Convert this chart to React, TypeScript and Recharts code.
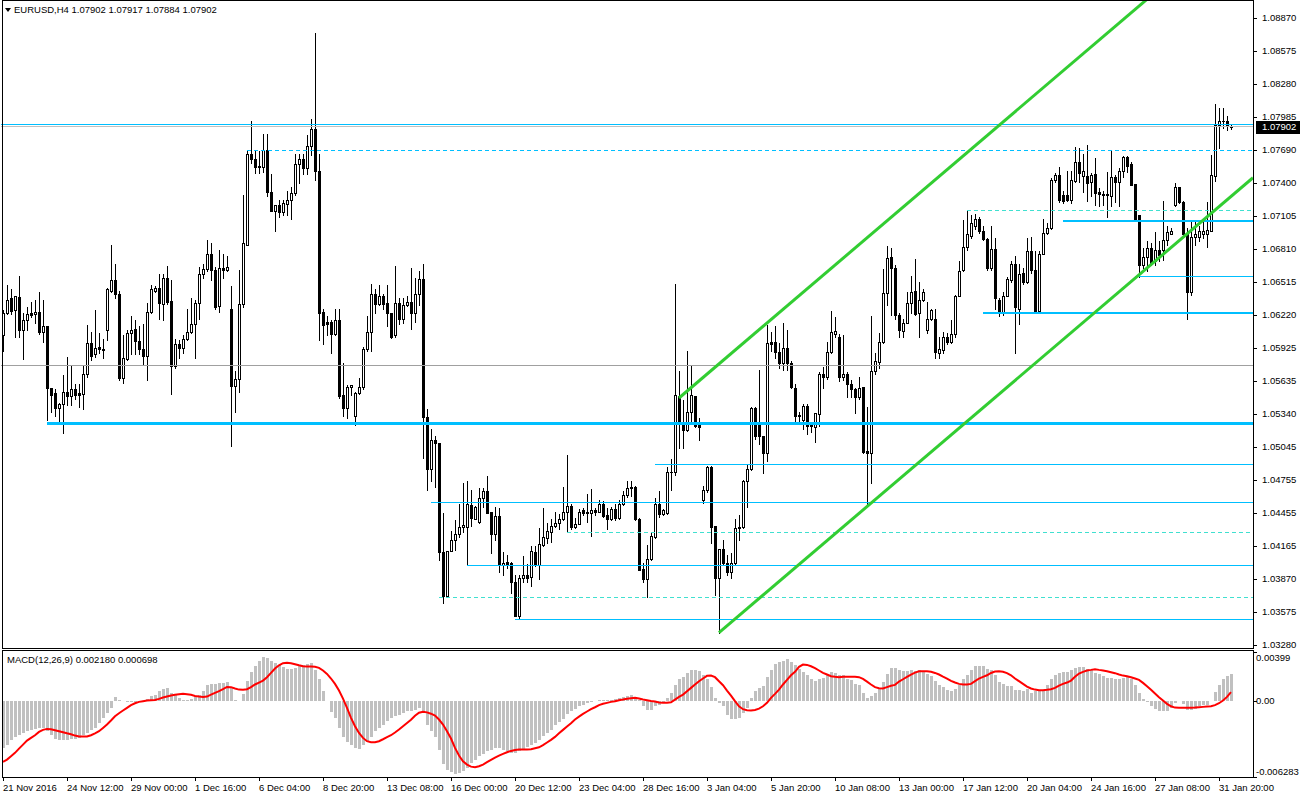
import React from "react";
import { ComposedChart, Bar, Line, XAxis, YAxis, ReferenceLine } from "recharts";

const FONT = '"Liberation Sans", Arial, sans-serif';
const FS = 9.5;

// EURUSD H4 candles, prices in 1/10000 (10624 = 1.0624)
const openP = [
  10604, 10624, 10637, 10627, 10638, 10609, 10618, 10624, 10623, 10625,
  10607, 10612, 10557, 10553, 10539, 10543, 10554, 10550, 10556, 10553,
  10552, 10570, 10597, 10587, 10594, 10592, 10609, 10644, 10653, 10641,
  10566, 10583, 10606, 10610, 10599, 10592, 10586, 10625, 10644, 10646,
  10632, 10655, 10635, 10577, 10596, 10593, 10601, 10607, 10614, 10633,
  10659, 10663, 10677, 10662, 10630, 10664, 10662, 10628, 10559, 10565,
  10632, 10685, 10766, 10761, 10755, 10754, 10769, 10732, 10715, 10720,
  10714, 10721, 10725, 10731, 10757, 10761, 10753, 10773, 10788, 10751,
  10625, 10616, 10616, 10605, 10618, 10551, 10539, 10558, 10532, 10553,
  10558, 10592, 10607, 10641, 10632, 10639, 10633, 10624, 10604, 10633,
  10619, 10631, 10634, 10624, 10641, 10654, 10531, 10485, 10511, 10508,
  10411, 10372, 10412, 10422, 10427, 10433, 10433, 10453, 10440, 10438,
  10459, 10465, 10447, 10427, 10443, 10399, 10402, 10401, 10384, 10354,
  10388, 10390, 10389, 10411, 10399, 10417, 10423, 10429, 10434, 10437,
  10440, 10447, 10452, 10433, 10436, 10448, 10447, 10446, 10448, 10447,
  10454, 10444, 10440, 10449, 10441, 10454, 10462, 10468, 10469, 10440,
  10396, 10387, 10405, 10424, 10454, 10445, 10446, 10482, 10482, 10550,
  10527, 10520, 10536, 10550, 10524, 10457, 10466, 10487, 10434, 10388,
  10414, 10401, 10393, 10401, 10432, 10433, 10474, 10485, 10539, 10524,
  10514, 10499, 10598, 10598, 10589, 10579, 10593, 10579, 10557, 10533,
  10529, 10541, 10524, 10522, 10534, 10570, 10567, 10589, 10605, 10603,
  10567, 10570, 10561, 10556, 10549, 10558, 10501, 10499, 10572, 10580,
  10598, 10642, 10674, 10664, 10622, 10608, 10615, 10633, 10644, 10624,
  10636, 10609, 10619, 10619, 10588, 10591, 10603, 10598, 10605, 10639,
  10662, 10683, 10693, 10702, 10708, 10697, 10690, 10664, 10681, 10636,
  10625, 10639, 10653, 10668, 10628, 10660, 10652, 10679, 10662, 10626,
  10677, 10695, 10700, 10743, 10747, 10729, 10729, 10725, 10742, 10759,
  10746, 10746, 10741, 10748, 10732, 10730, 10730, 10728, 10745, 10741,
  10751, 10763, 10757, 10739, 10711, 10667, 10674, 10682, 10670, 10680,
  10680, 10689, 10694, 10720, 10736, 10723, 10694, 10643, 10692, 10692,
  10694, 10694, 10697, 10746, 10792, 10795, 10795, 10790.2,
];
const highP = [
  10627, 10649, 10645, 10639, 10657, 10624, 10629, 10634, 10636, 10643,
  10636, 10612, 10557, 10556, 10544, 10569, 10585, 10578, 10561, 10561,
  10578, 10613, 10607, 10627, 10606, 10601, 10646, 10685, 10668, 10644,
  10604, 10609, 10621, 10618, 10612, 10614, 10633, 10649, 10648, 10659,
  10659, 10666, 10653, 10601, 10600, 10604, 10628, 10637, 10636, 10665,
  10668, 10689, 10686, 10665, 10680, 10677, 10675, 10648, 10572, 10662,
  10729, 10768, 10795, 10768, 10768, 10784, 10784, 10748, 10720, 10725,
  10725, 10733, 10736, 10766, 10766, 10766, 10783, 10797, 10874, 10766,
  10628, 10621, 10618, 10628, 10628, 10579, 10560, 10560, 10554, 10566,
  10594, 10621, 10650, 10645, 10649, 10641, 10649, 10624, 10666, 10637,
  10637, 10639, 10664, 10655, 10661, 10668, 10538, 10521, 10514, 10508,
  10446, 10412, 10430, 10439, 10454, 10472, 10474, 10466, 10452, 10468,
  10468, 10479, 10447, 10451, 10450, 10411, 10408, 10402, 10390, 10390,
  10407, 10400, 10416, 10416, 10432, 10450, 10437, 10440, 10447, 10445,
  10469, 10497, 10454, 10441, 10449, 10450, 10463, 10467, 10450, 10457,
  10456, 10450, 10451, 10454, 10457, 10465, 10474, 10474, 10470, 10441,
  10401, 10417, 10429, 10459, 10465, 10449, 10487, 10494, 10650, 10572,
  10546, 10590, 10578, 10550, 10530, 10470, 10488, 10488, 10434, 10414,
  10422, 10408, 10410, 10440, 10444, 10475, 10489, 10540, 10540, 10573,
  10514, 10613, 10607, 10612, 10597, 10615, 10609, 10581, 10561, 10536,
  10543, 10543, 10527, 10535, 10571, 10576, 10598, 10626, 10620, 10605,
  10604, 10571, 10564, 10557, 10567, 10558, 10540, 10621, 10588, 10606,
  10663, 10684, 10682, 10667, 10624, 10619, 10643, 10657, 10672, 10652,
  10645, 10634, 10628, 10628, 10603, 10607, 10606, 10618, 10640, 10670,
  10707, 10716, 10711, 10712, 10710, 10702, 10691, 10702, 10691, 10637,
  10643, 10656, 10670, 10675, 10668, 10664, 10691, 10692, 10679, 10679,
  10708, 10704, 10744, 10749, 10754, 10733, 10751, 10751, 10772, 10771,
  10766, 10774, 10749, 10762, 10735, 10733, 10750, 10769, 10747, 10753,
  10764, 10764, 10759, 10739, 10711, 10682, 10688, 10686, 10696, 10688,
  10724, 10702, 10700, 10740, 10736, 10724, 10700, 10707, 10707, 10702,
  10705, 10723, 10765, 10810, 10807, 10807, 10800, 10791.7,
];
const lowP = [
  10590, 10623, 10623, 10603, 10603, 10583, 10609, 10620, 10615, 10605,
  10598, 10529, 10536, 10532, 10525, 10517, 10542, 10542, 10547, 10540,
  10538, 10567, 10582, 10585, 10588, 10584, 10600, 10643, 10637, 10564,
  10562, 10582, 10587, 10587, 10587, 10578, 10564, 10624, 10643, 10619,
  10618, 10632, 10552, 10575, 10584, 10588, 10600, 10606, 10584, 10619,
  10655, 10661, 10653, 10628, 10625, 10655, 10661, 10505, 10536, 10554,
  10629, 10685, 10758, 10749, 10749, 10750, 10728, 10715, 10697, 10710,
  10711, 10711, 10708, 10729, 10740, 10748, 10748, 10765, 10743, 10600,
  10596, 10604, 10588, 10604, 10548, 10532, 10530, 10551, 10524, 10552,
  10556, 10590, 10590, 10624, 10631, 10628, 10612, 10602, 10603, 10614,
  10615, 10630, 10610, 10616, 10631, 10495, 10466, 10474, 10469, 10404,
  10365, 10372, 10412, 10413, 10424, 10429, 10399, 10434, 10440, 10437,
  10451, 10446, 10410, 10422, 10393, 10390, 10397, 10374, 10354, 10352,
  10384, 10384, 10381, 10398, 10387, 10416, 10419, 10420, 10433, 10431,
  10439, 10429, 10431, 10432, 10436, 10444, 10438, 10425, 10444, 10447,
  10442, 10431, 10439, 10439, 10440, 10453, 10460, 10461, 10439, 10395,
  10384, 10371, 10404, 10423, 10442, 10444, 10445, 10466, 10480, 10504,
  10504, 10519, 10525, 10522, 10511, 10455, 10464, 10419, 10373, 10339,
  10399, 10390, 10388, 10399, 10422, 10432, 10451, 10484, 10512, 10507,
  10481, 10492, 10590, 10584, 10575, 10573, 10573, 10557, 10527, 10527,
  10521, 10516, 10518, 10509, 10523, 10557, 10565, 10588, 10603, 10563,
  10564, 10549, 10549, 10535, 10547, 10499, 10454, 10472, 10570, 10575,
  10597, 10631, 10622, 10619, 10603, 10603, 10615, 10624, 10622, 10603,
  10635, 10606, 10618, 10584, 10584, 10588, 10596, 10597, 10603, 10639,
  10661, 10680, 10691, 10699, 10695, 10689, 10662, 10662, 10628, 10621,
  10622, 10639, 10652, 10588, 10614, 10650, 10651, 10660, 10625, 10625,
  10677, 10694, 10699, 10741, 10723, 10722, 10724, 10722, 10741, 10741,
  10732, 10724, 10728, 10720, 10719, 10720, 10710, 10719, 10723, 10719,
  10745, 10750, 10738, 10708, 10656, 10664, 10661, 10667, 10667, 10670,
  10671, 10685, 10694, 10719, 10722, 10692, 10619, 10640, 10685, 10688,
  10691, 10683, 10697, 10742, 10771, 10789, 10787, 10788.4,
];
const closeP = [
  10624, 10636, 10626, 10639, 10609, 10618, 10623, 10622, 10625, 10607,
  10612, 10557, 10551, 10539, 10543, 10554, 10550, 10556, 10551, 10551,
  10570, 10597, 10586, 10593, 10592, 10591, 10645, 10653, 10641, 10566,
  10584, 10606, 10609, 10599, 10592, 10586, 10625, 10645, 10646, 10633,
  10655, 10634, 10577, 10596, 10593, 10601, 10607, 10614, 10633, 10659,
  10663, 10677, 10662, 10629, 10664, 10662, 10665, 10559, 10565, 10632,
  10686, 10766, 10761, 10754, 10754, 10769, 10732, 10715, 10720, 10714,
  10722, 10725, 10731, 10757, 10761, 10753, 10773, 10788, 10751, 10624,
  10613, 10614, 10605, 10618, 10550, 10539, 10558, 10560, 10553, 10558,
  10592, 10607, 10641, 10632, 10639, 10632, 10624, 10603, 10633, 10619,
  10631, 10634, 10624, 10641, 10654, 10531, 10485, 10511, 10508, 10411,
  10372, 10412, 10422, 10427, 10433, 10435, 10454, 10441, 10451, 10459,
  10465, 10446, 10427, 10443, 10399, 10401, 10400, 10384, 10354, 10388,
  10390, 10388, 10412, 10399, 10418, 10424, 10430, 10434, 10437, 10440,
  10447, 10452, 10433, 10436, 10447, 10446, 10446, 10448, 10447, 10454,
  10443, 10440, 10449, 10441, 10454, 10462, 10468, 10469, 10440, 10395,
  10387, 10405, 10425, 10454, 10445, 10448, 10482, 10482, 10551, 10526,
  10520, 10536, 10551, 10523, 10522, 10466, 10487, 10433, 10388, 10414,
  10401, 10393, 10401, 10432, 10433, 10474, 10485, 10539, 10514, 10514,
  10499, 10597, 10596, 10589, 10579, 10593, 10579, 10558, 10532, 10532,
  10541, 10523, 10523, 10535, 10570, 10567, 10589, 10607, 10608, 10567,
  10570, 10561, 10556, 10549, 10557, 10500, 10499, 10572, 10581, 10598,
  10642, 10673, 10664, 10622, 10609, 10615, 10633, 10643, 10623, 10636,
  10643, 10619, 10627, 10589, 10592, 10603, 10598, 10605, 10639, 10661,
  10683, 10694, 10704, 10708, 10697, 10690, 10664, 10681, 10637, 10625,
  10639, 10654, 10668, 10629, 10659, 10652, 10679, 10662, 10626, 10677,
  10695, 10700, 10743, 10747, 10725, 10724, 10725, 10743, 10759, 10749,
  10751, 10740, 10747, 10731, 10730, 10729, 10729, 10745, 10741, 10751,
  10763, 10755, 10738, 10708, 10667, 10674, 10682, 10668, 10680, 10676,
  10689, 10696, 10697, 10736, 10723, 10694, 10643, 10692, 10694, 10697,
  10697, 10698, 10747, 10792, 10795, 10795, 10791, 10790.2,
];

// MACD(12,26,9), values in 1e-5
const macdMain = [
  -389, -362, -321, -301, -285, -266, -252, -238, -230, -225,
  -225, -247, -285, -312, -321, -321, -321, -315, -312, -307,
  -285, -266, -238, -225, -184, -142, -101, -60, 27, 8,
  -5, -14, -14, -8, -5, 0, 16, 36, 49, 77,
  99, 104, 58, 49, 22, 8, 8, 16, 27, 49,
  82, 126, 137, 137, 145, 145, 151, 104, 8, 0,
  55, 159, 236, 282, 323, 356, 351, 323, 310, 290,
  274, 263, 263, 269, 282, 296, 301, 310, 255, 173,
  77, -5, -93, -142, -225, -301, -340, -367, -389, -395,
  -362, -334, -301, -252, -225, -197, -170, -142, -129, -115,
  -101, -88, -88, -74, -60, -101, -203, -252, -301, -403,
  -521, -567, -586, -603, -595, -581, -553, -512, -485, -458,
  -438, -416, -403, -389, -389, -403, -416, -430, -430, -416,
  -403, -384, -367, -348, -321, -293, -266, -238, -203, -175,
  -148, -110, -82, -66, -47, -33, -19, -11, -5, 5,
  8, 8, 8, 16, 22, 27, 36, 49, 27, 8,
  -47, -74, -74, -47, -33, -11, 22, 63, 126, 173,
  192, 227, 255, 255, 241, 214, 173, 110, 22, -19,
  -47, -115, -148, -148, -142, -101, -60, 22, 77, 104,
  118, 192, 255, 301, 318, 329, 345, 318, 296, 263,
  236, 208, 173, 164, 173, 186, 214, 236, 227, 214,
  214, 181, 167, 137, 126, 63, 22, 36, 63, 99,
  153, 219, 269, 269, 255, 241, 241, 255, 241, 247,
  236, 219, 200, 159, 126, 110, 90, 82, 99, 126,
  173, 214, 247, 282, 288, 288, 263, 247, 214, 153,
  132, 123, 123, 90, 90, 82, 99, 63, 77, 77,
  90, 126, 173, 214, 227, 236, 236, 255, 269, 277,
  274, 263, 247, 227, 219, 200, 186, 186, 181, 181,
  186, 192, 173, 126, 63, 16, -11, -47, -69, -88,
  -88, -88, -60, -19, -5, -27, -74, -74, -66, -47,
  -38, -33, -5, 71, 126, 173, 200, 218,
];
const macdSignal = [
  -504, -485, -458, -430, -395, -362, -329, -307, -285, -258,
  -241, -233, -236, -244, -252, -260, -269, -277, -288, -296,
  -296, -296, -285, -269, -252, -225, -197, -164, -129, -104,
  -82, -60, -38, -22, -11, -5, 0, 3, 5, 14,
  25, 33, 41, 47, 52, 55, 52, 47, 38, 33,
  30, 33, 49, 63, 77, 93, 112, 110, 99, 90,
  88, 93, 110, 132, 148, 164, 192, 227, 263, 290,
  307, 310, 307, 299, 290, 282, 279, 279, 277, 269,
  247, 219, 181, 137, 82, 16, -60, -142, -211, -266,
  -307, -334, -342, -342, -334, -318, -301, -285, -263, -238,
  -211, -184, -158, -125, -100, -92, -97, -108, -123, -156,
  -197, -252, -312, -389, -452, -499, -526, -543, -548, -540,
  -526, -507, -488, -469, -452, -438, -425, -414, -406, -403,
  -403, -403, -400, -392, -384, -367, -345, -323, -299, -269,
  -241, -214, -186, -156, -132, -110, -90, -71, -55, -38,
  -27, -19, -11, -5, 3, 8, 14, 19, 22, 16,
  8, 3, -3, -8, -16, -19, -19, -14, 8, 30,
  49, 77, 104, 132, 159, 181, 203, 205, 192, 159,
  126, 82, 41, -5, -47, -71, -79, -82, -77, -66,
  -47, -19, 22, 55, 90, 132, 170, 208, 236, 277,
  296, 293, 282, 266, 247, 227, 214, 200, 195, 192,
  195, 195, 195, 195, 192, 178, 156, 132, 110, 101,
  99, 110, 121, 129, 156, 175, 195, 214, 230, 241,
  241, 241, 236, 227, 214, 197, 181, 162, 148, 137,
  132, 132, 137, 159, 181, 195, 208, 227, 238, 241,
  236, 225, 208, 181, 159, 137, 115, 99, 90, 85,
  85, 88, 93, 104, 123, 137, 148, 164, 195, 222,
  236, 247, 252, 258, 252, 247, 241, 233, 225, 214,
  205, 200, 192, 181, 170, 145, 118, 88, 58, 27,
  0, -27, -47, -58, -60, -60, -60, -60, -58, -55,
  -52, -49, -47, -38, -22, 0, 30, 69.8,
];

const timeLabels = [
  "21 Nov 2016", "24 Nov 12:00", "29 Nov 00:00", "1 Dec 16:00", "6 Dec 04:00",
  "8 Dec 20:00", "13 Dec 08:00", "16 Dec 00:00", "20 Dec 12:00", "23 Dec 04:00",
  "28 Dec 16:00", "3 Jan 04:00", "5 Jan 20:00", "10 Jan 08:00", "13 Jan 00:00",
  "17 Jan 12:00", "20 Jan 04:00", "24 Jan 16:00", "27 Jan 08:00", "31 Jan 20:00",
];
const timeTickBars = [0, 16, 32, 48, 64, 80, 96, 112, 128, 144, 160, 176, 192, 208, 224, 240, 256, 272, 288, 304];

const priceTicks = [
  1.0887, 1.08575, 1.0828, 1.07985, 1.0769, 1.074, 1.07105, 1.0681, 1.06515, 1.0622,
  1.05925, 1.05635, 1.0534, 1.05045, 1.04755, 1.04455, 1.04165, 1.0387, 1.03575, 1.0328,
];
const macdTicks = [0.00399, 0, -0.006283];
const macdTickText = ["0.00399", "0.00", "-0.006283"];

// horizontal levels drawn on the chart
const levelPrice = [1.0792, 1.07693, 1.05768, 1.05255, 1.04891, 1.04553, 1.04285, 1.03991, 1.03706, 1.03509, 1.07156, 1.0706, 1.06561, 1.0624];
const levelFrom = [-0.5, 61, -0.5, 11, 163, 107, 141, 116, 109, 128, 241, 265, 283, 245];
const levelKind = ["thin", "dash", "grey", "thick", "thin", "thin", "dot", "thin", "dot", "thin", "dot", "mid", "thin", "mid"];

// equidistant channel: [bar, price] anchors
const channelUpper = [[169, 1.05482], [312.5, 1.09842]];
const channelLower = [[179, 1.0339], [312.5, 1.07446]];

const LEVEL_STYLE: Record<string, { color: string; w: number; dash?: string }> = {
  thin: { color: "#00bfff", w: 1 },
  mid: { color: "#00bfff", w: 2 },
  thick: { color: "#00bfff", w: 3 },
  dash: { color: "#00bfff", w: 1, dash: "4 3" },
  dot: { color: "#40e0d0", w: 1, dash: "4 3" },
  grey: { color: "#a0a0a0", w: 1 },
};

const SLOTS = 313; // bars + chart shift on the right
const X_DOMAIN: [number, number] = [-0.5, SLOTS - 0.5];
const last = closeP.length - 1;

const rows = Array.from({ length: SLOTS }, (_, i) => {
  if (i > last) return { i };
  const o = openP[i] / 1e4, h = highP[i] / 1e4, l = lowP[i] / 1e4, c = closeP[i] / 1e4;
  return { i, o, h, l, c, range: [l, h], hist: macdMain[i] * 1e-5, signal: macdSignal[i] * 1e-5 };
});

function Candle(props: any) {
  const { x, y, width, height, payload } = props;
  if (!payload || payload.h == null) return null;
  const { o, h, l, c } = payload;
  const cx = Math.round(x + width / 2);
  const top = Math.min(y, y + height);
  const k = h > l ? Math.abs(height) / (h - l) : 0;
  const py = (v: number) => Math.round(top + (h - v) * k);
  const yH = py(h), yL = py(l);
  const yT = py(Math.max(o, c)), yB = py(Math.min(o, c));
  let body;
  if (yB - yT < 1) body = <line x1={cx - 1} x2={cx + 2} y1={yT + 0.5} y2={yT + 0.5} stroke="#000" />;
  else if (c > o) body = <rect x={cx - 0.5} y={yT + 0.5} width={2} height={yB - yT} fill="#fff" stroke="#000" />;
  else body = <rect x={cx - 1} y={yT} width={3} height={yB - yT + 1} fill="#000" />;
  return (
    <g shapeRendering="crispEdges">
      <line x1={cx + 0.5} x2={cx + 0.5} y1={yH} y2={yL + 1} stroke="#000" />
      {body}
    </g>
  );
}

function HistBar(props: any) {
  const { x, y, width, height } = props;
  if (height == null || isNaN(height)) return null;
  const cx = Math.round(x + width / 2);
  const t = Math.round(Math.min(y, y + height));
  const b = Math.round(Math.max(y, y + height));
  return <rect x={cx - 1} y={t} width={3} height={Math.max(b - t, 0)} fill="#c0c0c0" shapeRendering="crispEdges" />;
}

function PriceTick({ x, y, payload }: any) {
  const yy = Math.round(y);
  return (
    <g>
      <line x1={x} x2={x + 4} y1={yy + 0.5} y2={yy + 0.5} stroke="#000" shapeRendering="crispEdges" />
      <text x={x + 9} y={yy} dy="0.35em" fontSize={FS} fontFamily={FONT} fill="#000">
        {payload.value.toFixed(5)}
      </text>
    </g>
  );
}

// local coordinates of the MACD svg (top of panel = 0)
function MacdTick({ x, y, payload }: any) {
  const k = macdTicks.indexOf(payload.value);
  const yy = Math.round(Math.min(Math.max(y, 8), 122));
  return (
    <g>
      <line x1={x} x2={x + 4} y1={Math.round(y) + 0.5} y2={Math.round(y) + 0.5} stroke="#000" shapeRendering="crispEdges" />
      <text x={x + 3} y={yy} dy="0.35em" fontSize={FS} fontFamily={FONT} fill="#000">
        {macdTickText[k]}
      </text>
    </g>
  );
}

function TimeTick({ x, y, payload }: any) {
  const k = timeTickBars.indexOf(payload.value);
  const xx = Math.round(x);
  return (
    <g>
      <line x1={xx + 0.5} x2={xx + 0.5} y1={y} y2={y + 4} stroke="#000" shapeRendering="crispEdges" />
      <text x={xx} y={y + 11} dy="0.35em" fontSize={FS} fontFamily={FONT} fill="#000">
        {timeLabels[k]}
      </text>
    </g>
  );
}

function BidLabel({ viewBox }: any) {
  const yy = Math.round(viewBox.y);
  const xr = viewBox.x + viewBox.width;
  return (
    <g>
      <rect x={xr + 3} y={yy - 6} width={47} height={13} fill="#000" />
      <text x={xr + 9} y={yy} dy="0.35em" fontSize={FS} fontFamily={FONT} fill="#fff">
        {(closeP[last] / 1e4).toFixed(5)}
      </text>
    </g>
  );
}

export default function App() {
  const fmt = (v: number, d: number) => v.toFixed(d);
  return (
    <div style={{ position: "absolute", left: 0, top: 0, width: 1300, height: 800, background: "#fff", overflow: "hidden" }}>
      <div style={{ position: "absolute", left: 0, top: 0 }}>
        <ComposedChart width={1300} height={660} data={rows} margin={{ top: 1, right: 0, bottom: 14, left: 1 }}>
          <XAxis dataKey="i" type="number" domain={X_DOMAIN} allowDataOverflow hide />
          <YAxis
            orientation="right"
            width={47}
            domain={[1.0327108, 1.0902156]}
            allowDataOverflow
            ticks={priceTicks}
            interval={0}
            axisLine={false}
            tickLine={false}
            tickSize={0}
            tickMargin={0}
            tick={<PriceTick />}
          />
          <Bar dataKey="range" barSize={3} shape={Candle} isAnimationActive={false} />
          <ReferenceLine y={closeP[last] / 1e4} stroke="#c0c0c0" shapeRendering="crispEdges" label={<BidLabel />} />
          {levelPrice.map((p, k) => {
            const s = LEVEL_STYLE[levelKind[k]];
            return (
              <ReferenceLine
                key={k}
                segment={[{ x: levelFrom[k], y: p }, { x: X_DOMAIN[1], y: p }]}
                stroke={s.color}
                strokeWidth={s.w}
                strokeDasharray={s.dash}
                ifOverflow="hidden"
                shapeRendering="crispEdges"
              />
            );
          })}
          {[channelUpper, channelLower].map((ln, k) => (
            <ReferenceLine
              key={"ch" + k}
              segment={[{ x: ln[0][0], y: ln[0][1] }, { x: ln[1][0], y: ln[1][1] }]}
              stroke="#32cd32"
              strokeWidth={3}
              ifOverflow="hidden"
            />
          ))}
        </ComposedChart>
      </div>
      <div style={{ position: "absolute", left: 0, top: 650 }}>
        <ComposedChart width={1300} height={150} data={rows} margin={{ top: 2, right: 0, bottom: 1, left: 1 }}>
          <XAxis
            dataKey="i"
            type="number"
            domain={X_DOMAIN}
            allowDataOverflow
            ticks={timeTickBars}
            interval={0}
            height={22}
            axisLine={false}
            tickLine={false}
            tickSize={0}
            tickMargin={0}
            tick={<TimeTick />}
          />
          <YAxis
            orientation="right"
            width={47}
            domain={[-0.006283, 0.00399]}
            allowDataOverflow
            ticks={macdTicks}
            interval={0}
            axisLine={false}
            tickLine={false}
            tickSize={0}
            tickMargin={0}
            tick={<MacdTick />}
          />
          <Bar dataKey="hist" barSize={3} shape={HistBar} isAnimationActive={false} />
          <Line dataKey="signal" type="linear" stroke="#ff0000" strokeWidth={2} dot={false} isAnimationActive={false} />
        </ComposedChart>
      </div>
      <svg width={1300} height={800} style={{ position: "absolute", left: 0, top: 0, pointerEvents: "none" }}>
        <g fill="none" stroke="#000" shapeRendering="crispEdges">
          <rect x={2.5} y={0.5} width={1251} height={648} />
          <rect x={2.5} y={650.5} width={1251} height={127} />
        </g>
        <polygon points="5,8 11,8 8,12" fill="#000" />
        <text x={14} y={10} dy="0.35em" fontSize={FS} fontFamily={FONT} fill="#000">
          {`EURUSD,H4  ${fmt(openP[last] / 1e4, 5)} ${fmt(highP[last] / 1e4, 5)} ${fmt(lowP[last] / 1e4, 5)} ${fmt(closeP[last] / 1e4, 5)}`}
        </text>
        <text x={7} y={660} dy="0.35em" fontSize={FS} fontFamily={FONT} fill="#000">
          {`MACD(12,26,9) ${fmt(macdMain[last] * 1e-5, 6)} ${fmt(macdSignal[last] * 1e-5, 6)}`}
        </text>
      </svg>
    </div>
  );
}
